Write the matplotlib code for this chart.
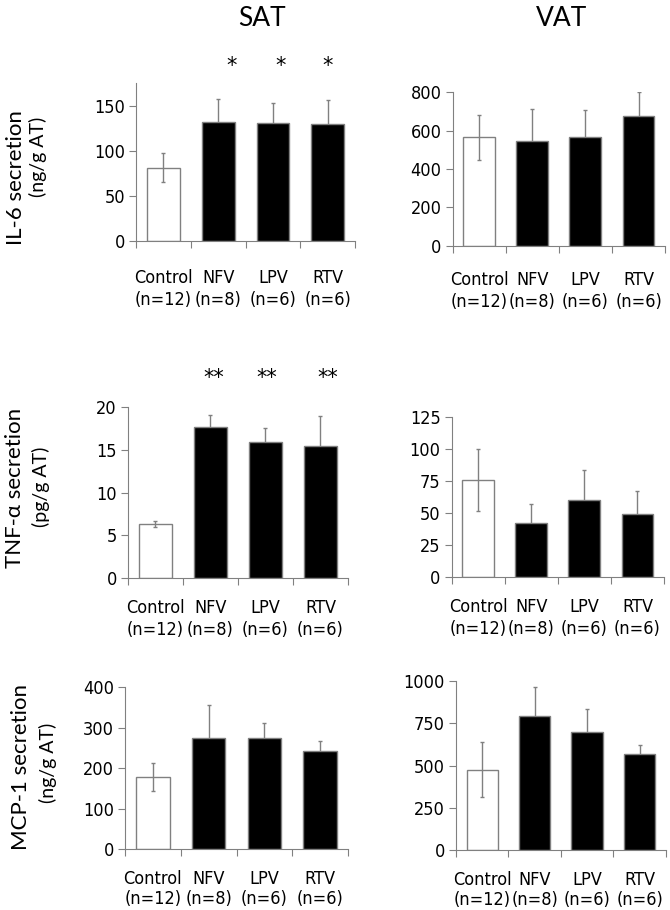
import os
import matplotlib
matplotlib.use('Agg')
import matplotlib.pyplot as plt
import matplotlib.transforms as mtrans
from matplotlib import font_manager as fm

plt.rcParams['font.family'] = ['DejaVu Sans']

groups = ['Control\n(n=12)', 'NFV\n(n=8)', 'LPV\n(n=6)', 'RTV\n(n=6)']
bar_colors = ['none', 'black', 'black', 'black']

# IL-6 (ng/g AT)
il6_sat = [81, 132, 131, 130]
il6_sat_err = [16, 25, 22, 26]
il6_vat = [565, 548, 567, 678]
il6_vat_err = [116, 165, 141, 122]

# TNF-alpha (pg/g AT)
tnf_sat = [6.3, 17.7, 15.9, 15.5]
tnf_sat_err = [0.35, 1.35, 1.6, 3.4]
tnf_vat = [75.5, 42, 59.6, 49.2]
tnf_vat_err = [24, 14.6, 24, 17.5]

# MCP-1 (ng/g AT)
mcp_sat = [178, 276, 275, 242]
mcp_sat_err = [34, 80, 38, 25]
mcp_vat = [476, 795, 699, 571]
mcp_vat_err = [163, 171, 134, 49]

# look for a narrow sans font for the tick labels (Arial Narrow look)
narrow = None
for f in fm.fontManager.ttflist:
    n = (f.name + ' ' + os.path.basename(f.fname)).lower()
    if 'mono' in n or 'serif' in n.replace('sans-serif', '') or 'cjk' in n:
        continue
    if f.style != 'normal' or f.weight not in (400, 'normal', 'regular'):
        continue
    if 'narrow' in n or 'condensed' in n or f.stretch in ('condensed', 'semi-condensed'):
        if 'semi' in n or 'extra' in n or 'ultra' in n:
            continue
        narrow = f.fname
        break

if narrow:
    tick_font = fm.FontProperties(fname=narrow, size=13)
else:
    tick_font = fm.FontProperties(family='Roboto', size=11)

fig = plt.figure(figsize=(6.7, 9.1), dpi=100)

def panel(rect, vals, errs, ymax, ystep, pad=15, ls=1.3):
    ax = fig.add_axes(rect)
    xs = [i + 0.5 for i in range(len(vals))]
    ax.errorbar(xs, vals, yerr=errs, fmt='none', ecolor='#808080', elinewidth=1,
                capsize=1.2, capthick=1, zorder=1)
    ax.bar(xs, vals, width=0.6, color=bar_colors, edgecolor='#808080', linewidth=1, zorder=2)
    ax.set_xlim(0, 4)
    ax.set_ylim(0, ymax)
    ax.set_yticks(list(range(0, int(ymax) + 1, ystep))[:int(ymax // ystep) + 1]
                  if ymax % ystep == 0 else list(range(0, int(ymax), ystep)))
    ax.set_xticks(range(5))
    ax.set_xticklabels([])
    ax.set_xticks(xs, minor=True)
    ax.set_xticklabels(groups, minor=True, linespacing=ls)
    ax.tick_params(axis='x', which='minor', length=0, pad=pad)
    ax.tick_params(axis='both', which='major', length=5, color='#808080')
    ax.tick_params(axis='y', pad=3)
    for lab in ax.get_xticklabels(minor=True) + ax.get_yticklabels():
        lab.set_fontproperties(tick_font)
    for s in ['top', 'right']:
        ax.spines[s].set_visible(False)
    for s in ['left', 'bottom']:
        ax.spines[s].set_color('#808080')
    return ax

ax1 = panel([0.203, 0.7352, 0.327, 0.1736], il6_sat, il6_sat_err, 175, 50, pad=20)
ax2 = panel([0.6757, 0.730, 0.3169, 0.1686], il6_vat, il6_vat_err, 800, 200, pad=18)
ax3 = panel([0.191, 0.3648, 0.3284, 0.1879], tnf_sat, tnf_sat_err, 20, 5)
ax4 = panel([0.6742, 0.3663, 0.3169, 0.1758], tnf_vat, tnf_vat_err, 125, 25)
ax5 = panel([0.1866, 0.0667, 0.3328, 0.178], mcp_sat, mcp_sat_err, 400, 100, ls=1.1)
ax6 = panel([0.6806, 0.0656, 0.3134, 0.186], mcp_vat, mcp_vat_err, 1000, 250, ls=1.1)

# significance marks
tr1 = mtrans.blended_transform_factory(ax1.transData, ax1.transAxes)
for x in [1.745, 2.636, 3.49]:
    ax1.text(x, 1.11, '*', transform=tr1, ha='center', va='center', fontsize=15)
tr3 = mtrans.blended_transform_factory(ax3.transData, ax3.transAxes)
for x in [1.564, 2.527, 3.636]:
    ax3.text(x, 1.17, '**', transform=tr3, ha='center', va='center', fontsize=15)

# column titles
fig.text(262 / 670, 1 - 18 / 910, 'SAT', ha='center', va='center', fontsize=19, family='Lato')
fig.text(562 / 670, 1 - 18 / 910, 'VAT', ha='center', va='center', fontsize=19, family='Lato')

# row labels
labels = [
    ('IL-6 secretion', (16, 178), '(ng/g AT)', (38, 157)),
    ('TNF-\u03b1 secretion', (15, 488), '(pg/g AT)', (41, 487)),
    ('MCP-1 secretion', (21, 767), '(ng/g AT)', (48, 763)),
]
for l1, p1, l2, p2 in labels:
    fig.text(p1[0] / 670, 1 - p1[1] / 910, l1, rotation=90, ha='center', va='center',
             fontsize=16, family='Lato')
    fig.text(p2[0] / 670, 1 - p2[1] / 910, l2, rotation=90, ha='center', va='center',
             fontsize=14, family='Lato')

fig.savefig('out.png', dpi=100)
